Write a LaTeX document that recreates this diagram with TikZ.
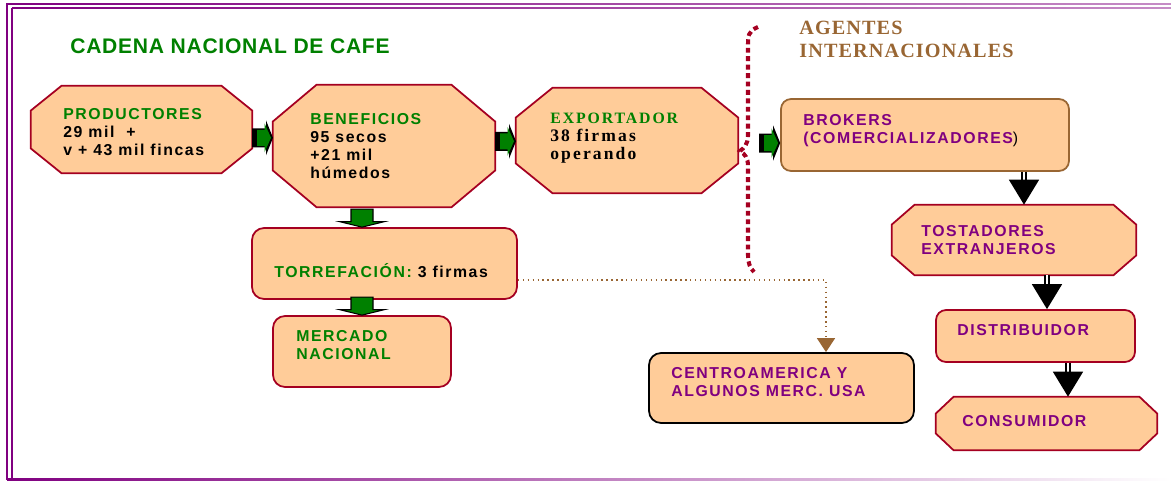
\documentclass[tikz,border=0pt]{standalone}
\usepackage{fontspec}
\setmainfont{Liberation Sans}
\newfontfamily\boxfont[LetterSpace=10]{Liberation Sans}
\newfontfamily\titlefont[LetterSpace=3.4]{Liberation Sans}
\newfontfamily\serifbox[LetterSpace=12]{Liberation Serif}
\newfontfamily\serifhead[LetterSpace=5.5]{Liberation Serif}
\usetikzlibrary{positioning,calc,arrows.meta}

\definecolor{peach}{HTML}{FFCC99}
\definecolor{wine}{HTML}{A50021}
\definecolor{cgreen}{HTML}{008000}
\definecolor{cpurple}{HTML}{800080}
\definecolor{cbrown}{HTML}{996633}

\tikzset{
  octo/.style={rectangle, inner sep=0pt},
  octoline/.style={draw=wine, fill=peach, line width=1pt, line join=miter},
  roundbox/.style={rectangle, rounded corners=0.2cm, draw=wine, fill=peach, line width=1pt, inner sep=0pt},
  lbl/.style={anchor=base west, inner sep=0pt, align=left, font=\boxfont\bfseries\fontsize{9}{10.2}\selectfont},
  blkarrow/.style={double, double distance=1.4pt, line width=0.9pt, -{Triangle[length=0.5cm,width=0.6cm]}},
  bord/.style={cpurple, line width=1.5pt},
}

% octagon round a named box: #2, #3 = size of the cut corners
\newcommand\octagon[3]{%
  \draw[octoline] ([xshift=#2]#1.north west) -- ([xshift=-#2]#1.north east)
    -- ([yshift=-#3]#1.north east) -- ([yshift=#3]#1.south east)
    -- ([xshift=-#2]#1.south east) -- ([xshift=#2]#1.south west)
    -- ([yshift=#3]#1.south west) -- ([yshift=-#3]#1.north west) -- cycle;}
% green block arrow, tip at #1, pointing right
\newcommand\rblock[1]{%
  \begin{scope}[shift={(#1)}]
    \fill[black] (-21,-9.5) -- (-7,-9.5) -- (-7,-17.5) -- (0,0) -- (-7,17.5) -- (-7,9.5) -- (-21,9.5) -- cycle;
    \fill[cgreen] (-16,-8) -- (-8.5,-8) -- (-8.5,-14.5) -- (-2,0) -- (-8.5,14.5) -- (-8.5,8) -- (-16,8) -- cycle;
  \end{scope}}
% green block arrow, tip at #1, pointing down
\newcommand\dblock[1]{%
  \begin{scope}[shift={(#1)}]
    \filldraw[fill=cgreen, draw=black, line width=0.6pt] (-11,-18) -- (11,-18) -- (11,-5.5) -- (22.5,-5.5)
      -- (0,0) -- (-22.5,-5.5) -- (-11,-5.5) -- cycle;
  \end{scope}}

\begin{document}
\begin{tikzpicture}[x=0.02cm, y=-0.02cm]
\useasboundingbox (0,0) rectangle (1171,481);

% frame
\shade[left color=cpurple, right color=cpurple!45] (6,3.2) rectangle (1171,4.8);
\shade[left color=cpurple, right color=cpurple!45] (12,7.2) rectangle (1171,8.8);
\draw[bord] (7,4) -- (7,480);
\draw[bord] (12,8) -- (12,478);
\shade[left color=cpurple, right color=white] (7,478.2) rectangle (1171,480);

% title and side heading
\node[anchor=base west, inner sep=0pt, text=cgreen, font=\titlefont\bfseries\fontsize{12}{14}\selectfont] (title) at (70,53) {CADENA NACIONAL DE CAFE};
\node[anchor=base west, inner sep=0pt, align=left, text=cbrown, font=\serifhead\bfseries\fontsize{11.5}{13}\selectfont] (agentes) at (799,57) {AGENTES\\INTERNACIONALES};

% boxes
\node[octo, minimum width=4.42cm, minimum height=1.74cm] (prod) at (141.5,129.5) {};
\node[octo, minimum width=4.44cm, minimum height=2.44cm] (benef) at (384,146) {};
\node[octo, minimum width=4.44cm, minimum height=2.1cm] (export) at (627,140.5) {};
\node[roundbox, draw=cbrown, minimum width=5.76cm, minimum height=1.44cm] (brokers) at (925,135) {};
\node[octo, minimum width=4.88cm, minimum height=1.4cm] (tost) at (1014,240) {};
\node[roundbox, minimum width=3.98cm, minimum height=1.04cm] (distr) at (1035.5,336) {};
\node[octo, minimum width=4.42cm, minimum height=1.06cm] (consum) at (1046.5,423.5) {};
\node[roundbox, rounded corners=0.24cm, minimum width=5.3cm, minimum height=1.42cm] (torref) at (384.5,263.5) {};
\node[roundbox, rounded corners=0.24cm, minimum width=3.56cm, minimum height=1.42cm] (mercado) at (362,351.5) {};
\node[roundbox, draw=black, rounded corners=0.24cm, minimum width=5.3cm, minimum height=1.4cm] (centro) at (781.5,388) {};

\octagon{prod}{0.62cm}{0.5cm}
\octagon{benef}{0.88cm}{0.74cm}
\octagon{export}{0.74cm}{0.6cm}
\octagon{tost}{0.46cm}{0.4cm}
\octagon{consum}{0.36cm}{0.34cm}

% box texts
\node[lbl] (prodtxt) at (63,155) {\textcolor{cgreen}{PRODUCTORES}\\29 mil \ +\\v + 43 mil fincas};
\node[lbl] (beneftxt) at (310,178) {\textcolor{cgreen}{BENEFICIOS}\\95 secos\\+21 mil\\húmedos};
\node[lbl, font=\serifbox\bfseries\fontsize{9}{10.2}\selectfont] (exporttxt) at (550,159)
  {\textcolor{cgreen}{EXPORTADOR}\\\fontsize{10}{10.2}\selectfont 38 firmas\\\fontsize{10}{10.2}\selectfont operando};
\node[lbl, text=cpurple] (brokerstxt) at (803,143) {BROKERS\\(COMERCIALIZADORES\textcolor{black}{\mdseries)}};
\node[lbl, text=cpurple] (tosttxt) at (921,254) {TOSTADORES\\EXTRANJEROS};
\node[lbl, text=cpurple] (distrtxt) at (957,335) {DISTRIBUIDOR};
\node[lbl, text=cpurple] (consumtxt) at (962,426) {CONSUMIDOR};
\node[lbl] (torreftxt) at (274,277) {\textcolor{cgreen}{TORREFACIÓN:} 3 firmas};
\node[lbl, text=cgreen] (mercadotxt) at (296,359) {MERCADO\\NACIONAL};
\node[lbl, text=cpurple] (centrotxt) at (671,396) {CENTROAMERICA Y\\ALGUNOS MERC. USA};

% green block arrows
\rblock{$(prod.east)!0.5!(benef.west)+(10.5,0)$}
\rblock{$(benef.east)!0.5!(export.west)+(10.5,-2)$}
\rblock{[yshift=-0.16cm]brokers.west}
\dblock{torref.north -| mercado.north}
\dblock{mercado.north}

% black arrows
\draw[blkarrow] ([xshift=0.2cm]tost.north |- brokers.south) -- ([xshift=0.2cm]tost.north);
\draw[blkarrow] ([xshift=0.23cm]distr.north |- tost.south) -- ([xshift=0.23cm]distr.north);
\draw[blkarrow] ([xshift=0.43cm]consum.north |- distr.south) -- ([xshift=0.43cm]consum.north);

% dotted link to the regional market
\draw[cbrown, line width=0.8pt, dotted, -{Triangle[length=0.28cm,width=0.36cm]}]
  ([yshift=-0.33cm]torref.east) -| ([xshift=0.89cm]centro.north);

% border of the international agents
\draw[wine, line width=2.3pt, dash pattern=on 2.8pt off 2pt]
  (758,27) .. controls (748,31) and (748,36) .. (748,46) -- (748,136)
  .. controls (748,144) and (744,148) .. (740,151)
  .. controls (745,154) and (748,158) .. (748,166) -- (748,255)
  .. controls (748,263) and (750,268) .. (754,272);

\end{tikzpicture}
\end{document}
